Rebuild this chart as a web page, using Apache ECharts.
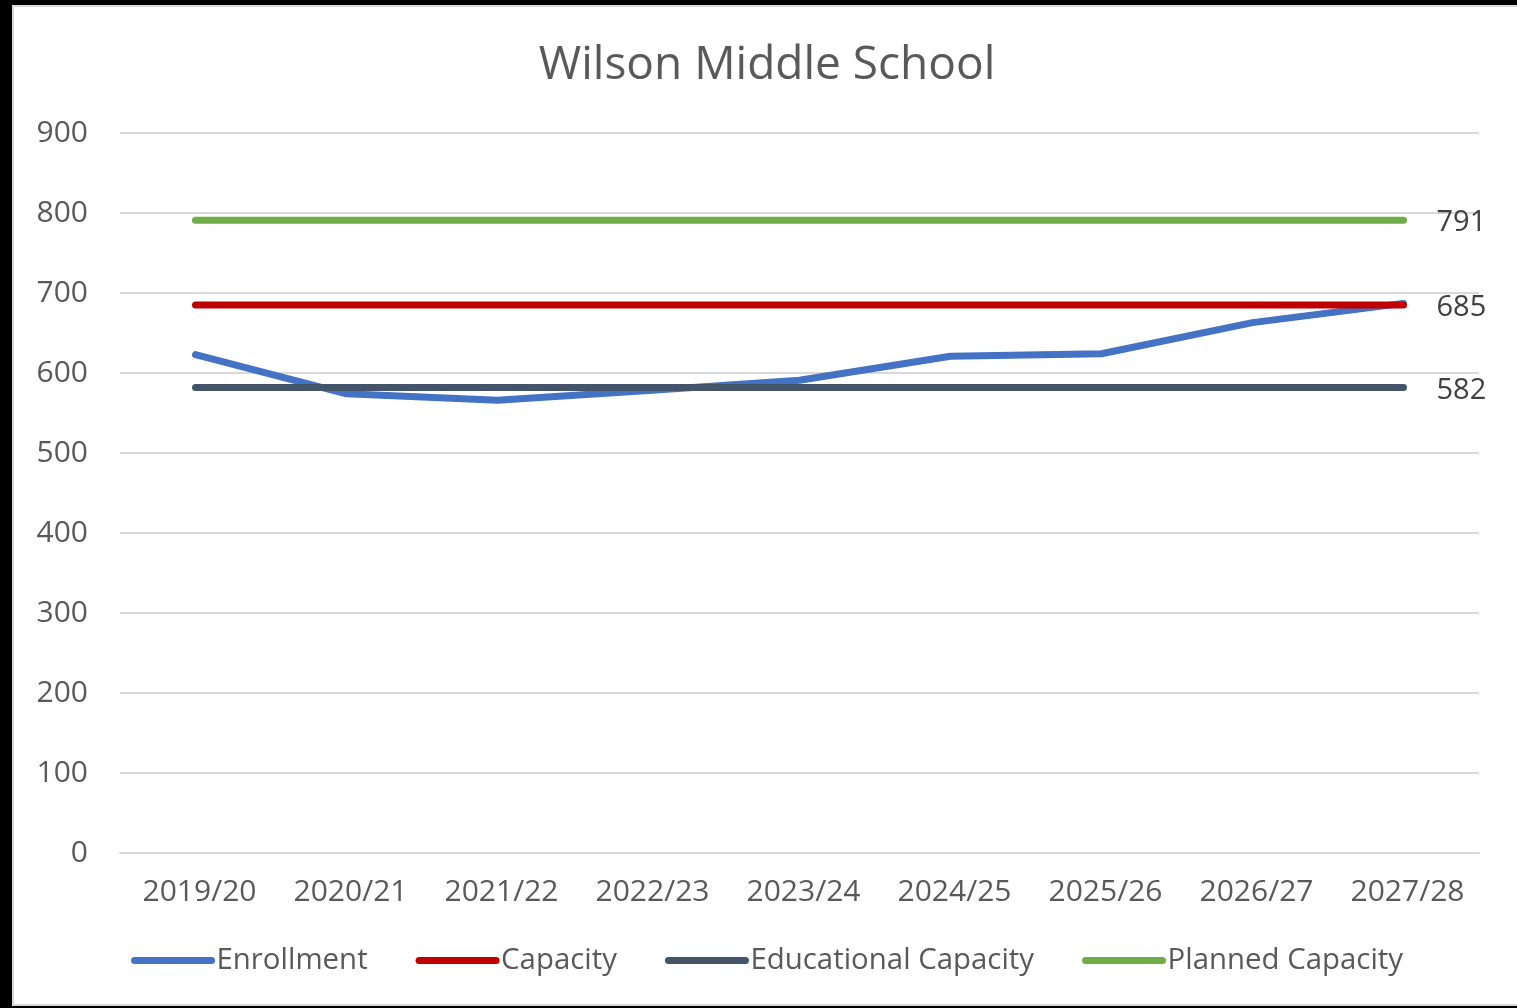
<!DOCTYPE html>
<html>
<head>
<meta charset="utf-8">
<title>Wilson Middle School</title>
<script src="https://cdn.jsdelivr.net/npm/echarts@6/dist/echarts.min.js"></script>
<style>
  html, body { margin: 0; padding: 0; background: #000; width: 1517px; height: 1008px; overflow: hidden; }
  #chart {
    position: absolute; left: 12px; top: 5px;
    width: 1510px; height: 1001px;
    box-sizing: border-box; border: 2px solid #d9d9d9; background: #fff;
  }
</style>
</head>
<body>
<div id="chart"></div>
<script>
// School years on the category axis
const years = ['2019/20', '2020/21', '2021/22', '2022/23', '2023/24', '2024/25', '2025/26', '2026/27', '2027/28'];

// Student counts per year
const enrollment = [623, 574, 566, 578, 591, 621, 624, 663, 687];
const capacity = [685, 685, 685, 685, 685, 685, 685, 685, 685];
const educationalCapacity = [582, 582, 582, 582, 582, 582, 582, 582, 582];
const plannedCapacity = [791, 791, 791, 791, 791, 791, 791, 791, 791];

// Y axis range
const yMin = 0, yMax = 900, yStep = 100;

const FONT = '"Open Sans", "Noto Sans", sans-serif';
const TEXT = '#595959';

function lineSeries(name, data, color, withEndLabel) {
  return {
    name: name,
    type: 'line',
    data: data,
    symbol: 'none',
    smooth: false,
    lineStyle: { color: color, width: 7, cap: 'round', join: 'round' },
    itemStyle: { color: color },
    endLabel: withEndLabel ? {
      show: true,
      formatter: p => String(p.value),
      color: '#404040',
      fontFamily: FONT,
      fontSize: 29,
      distance: 33,
      offset: [0, 3]
    } : { show: false },
    emphasis: { disabled: true }
  };
}

const chart = echarts.init(document.getElementById('chart'), null, { renderer: 'canvas' });
chart.setOption({
  animation: false,
  backgroundColor: '#ffffff',
  title: {
    text: 'Wilson Middle School',
    left: 'center',
    top: 31,
    textStyle: { fontFamily: FONT, fontSize: 46, fontWeight: 'normal', color: TEXT }
  },
  grid: { left: 106, right: 41, top: 126, bottom: 151, containLabel: false },
  xAxis: {
    type: 'category',
    data: years,
    boundaryGap: true,
    axisLine: { show: true, lineStyle: { color: '#d9d9d9', width: 2 } },
    axisTick: { show: false },
    axisLabel: { color: TEXT, fontFamily: FONT, fontSize: 30, margin: 24, padding: [0, 0, 0, 8] }
  },
  yAxis: {
    type: 'value',
    min: yMin, max: yMax, interval: yStep,
    axisLine: { show: false },
    axisTick: { show: false },
    splitLine: { lineStyle: { color: '#d9d9d9', width: 2 } },
    axisLabel: { color: TEXT, fontFamily: FONT, fontSize: 30, margin: 32 }
  },
  legend: {
    bottom: 24,
    left: 'center',
    itemWidth: 77,
    itemHeight: 7,
    itemGap: 48,
    lineStyle: { width: 7, cap: 'round' },
    itemStyle: { borderWidth: 0 },
    textStyle: { color: TEXT, fontFamily: FONT, fontSize: 29.4 },
    data: ['Enrollment', 'Capacity', 'Educational Capacity', 'Planned Capacity']
  },
  series: [
    lineSeries('Enrollment', enrollment, '#4472c4', false),
    lineSeries('Capacity', capacity, '#c00000', true),
    lineSeries('Educational Capacity', educationalCapacity, '#44546a', true),
    lineSeries('Planned Capacity', plannedCapacity, '#70ad47', true)
  ]
});
</script>
</body>
</html>
